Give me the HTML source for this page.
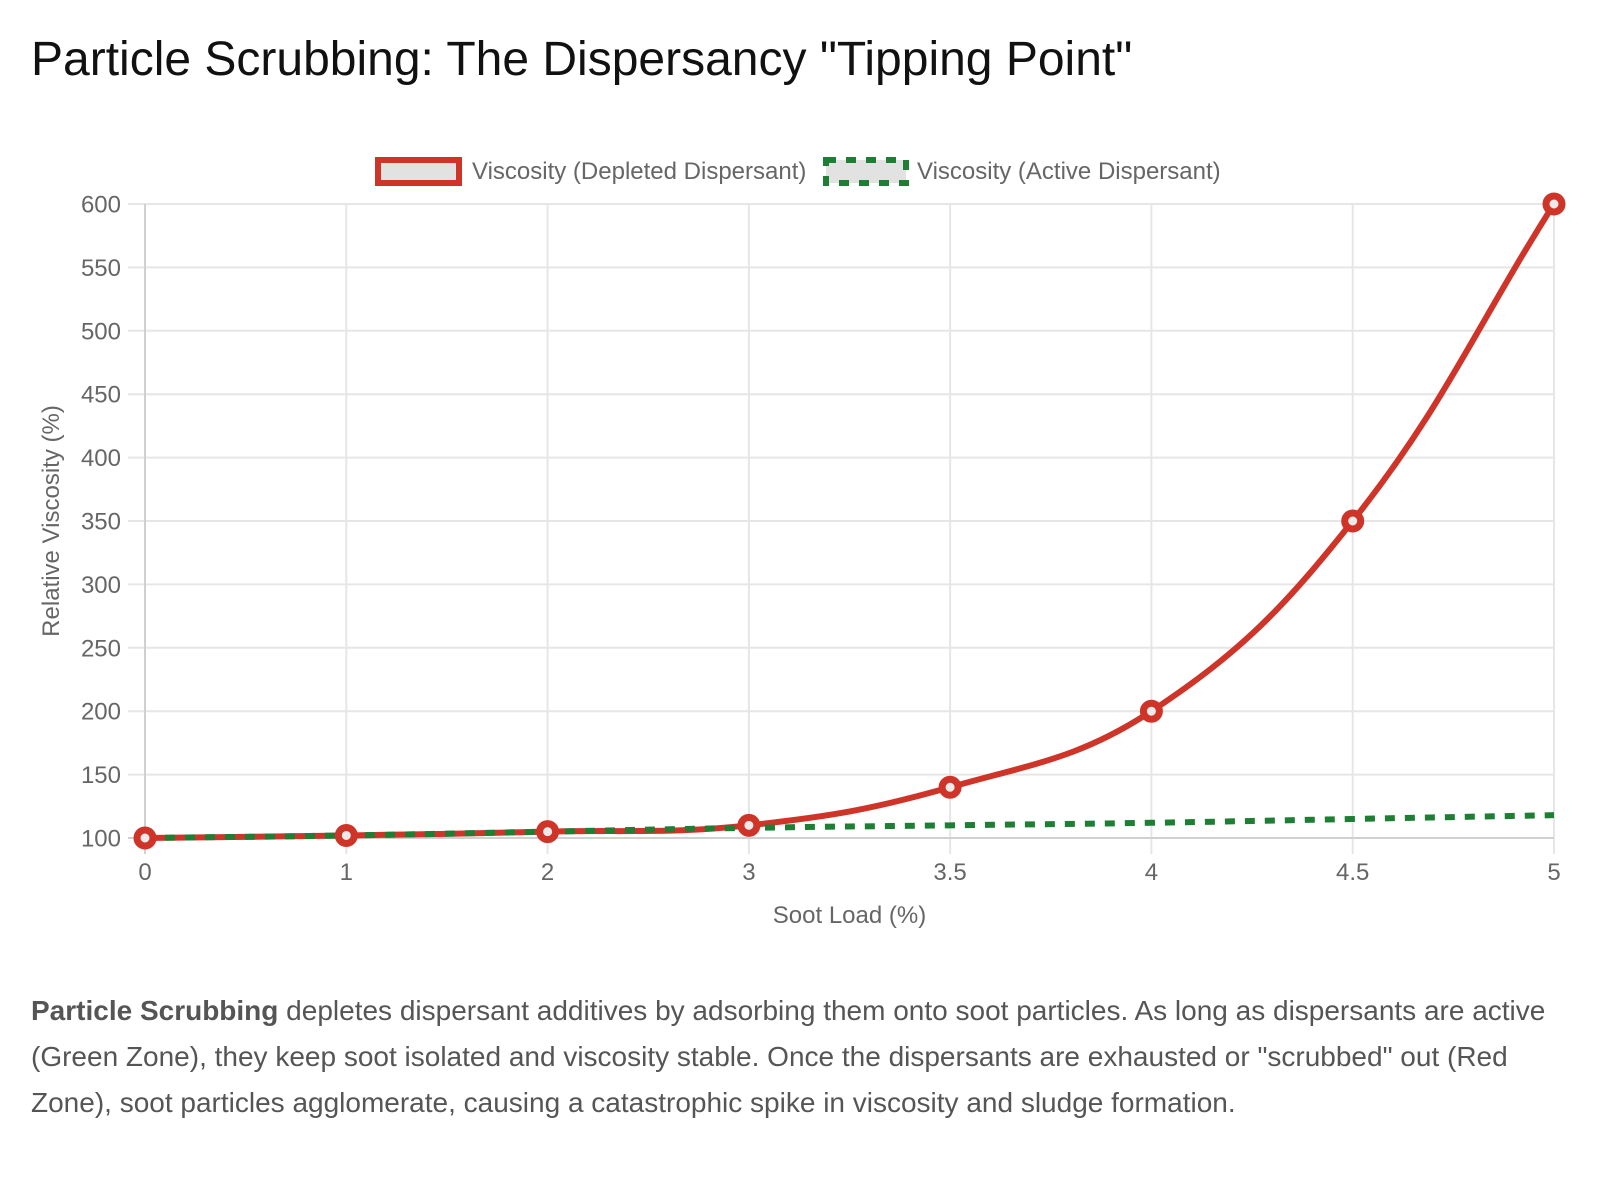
<!DOCTYPE html>
<html>
<head>
<meta charset="utf-8">
<style>
  html, body { margin:0; padding:0; background:#ffffff; }
  body { width:1600px; height:1200px; overflow:hidden; }
  svg { display:block; font-family:"Liberation Sans", Arial, Helvetica, sans-serif; }
</style>
</head>
<body>
<svg width="1600" height="1200" viewBox="0 0 1600 1200" xmlns="http://www.w3.org/2000/svg">
  <rect x="0" y="0" width="1600" height="1200" fill="#ffffff"/>

  <!-- Title -->
  <text x="31" y="75" font-size="48" fill="#111111">Particle Scrubbing: The Dispersancy "Tipping Point"</text>

  <!-- Legend -->
  <rect x="378" y="160" width="81" height="23" fill="#e2e2e2" stroke="#cf3429" stroke-width="6"/>
  <text x="472" y="179" font-size="24" fill="#666666">Viscosity (Depleted Dispersant)</text>
  <rect x="826" y="160" width="80" height="23" fill="#e2e2e2" stroke="#1e7e34" stroke-width="6" stroke-dasharray="10 10"/>
  <text x="917" y="179" font-size="24" fill="#666666">Viscosity (Active Dispersant)</text>

  <!-- Horizontal grid lines (with tick marks extending left) -->
  <g stroke="#e6e6e6" stroke-width="2">
    <line x1="128" y1="204" x2="1554" y2="204"/>
    <line x1="128" y1="267.4" x2="1554" y2="267.4"/>
    <line x1="128" y1="330.8" x2="1554" y2="330.8"/>
    <line x1="128" y1="394.2" x2="1554" y2="394.2"/>
    <line x1="128" y1="457.6" x2="1554" y2="457.6"/>
    <line x1="128" y1="521" x2="1554" y2="521"/>
    <line x1="128" y1="584.4" x2="1554" y2="584.4"/>
    <line x1="128" y1="647.8" x2="1554" y2="647.8"/>
    <line x1="128" y1="711.2" x2="1554" y2="711.2"/>
    <line x1="128" y1="774.6" x2="1554" y2="774.6"/>
  </g>
  <!-- Vertical grid lines (with tick marks extending down) -->
  <g stroke="#e6e6e6" stroke-width="2">
    <line x1="346.3" y1="204" x2="346.3" y2="854"/>
    <line x1="547.6" y1="204" x2="547.6" y2="854"/>
    <line x1="748.9" y1="204" x2="748.9" y2="854"/>
    <line x1="950.1" y1="204" x2="950.1" y2="854"/>
    <line x1="1151.4" y1="204" x2="1151.4" y2="854"/>
    <line x1="1352.7" y1="204" x2="1352.7" y2="854"/>
    <line x1="1554" y1="204" x2="1554" y2="854"/>
  </g>
  <!-- Axis borders -->
  <g stroke="#d0d0d0" stroke-width="2">
    <line x1="145" y1="204" x2="145" y2="854"/>
    <line x1="128" y1="838" x2="1554" y2="838"/>
  </g>

  <!-- Y tick labels -->
  <g font-size="24" fill="#666666" text-anchor="end">
    <text x="121" y="212.5">600</text>
    <text x="121" y="275.9">550</text>
    <text x="121" y="339.3">500</text>
    <text x="121" y="402.7">450</text>
    <text x="121" y="466.1">400</text>
    <text x="121" y="529.5">350</text>
    <text x="121" y="592.9">300</text>
    <text x="121" y="656.3">250</text>
    <text x="121" y="719.7">200</text>
    <text x="121" y="783.1">150</text>
    <text x="121" y="846.5">100</text>
  </g>

  <!-- X tick labels -->
  <g font-size="24" fill="#666666" text-anchor="middle">
    <text x="145" y="880">0</text>
    <text x="346.3" y="880">1</text>
    <text x="547.6" y="880">2</text>
    <text x="748.9" y="880">3</text>
    <text x="950.1" y="880">3.5</text>
    <text x="1151.4" y="880">4</text>
    <text x="1352.7" y="880">4.5</text>
    <text x="1554" y="880">5</text>
  </g>

  <!-- Axis titles -->
  <text x="849.5" y="923" font-size="24" fill="#666666" text-anchor="middle">Soot Load (%)</text>
  <text transform="translate(59,521) rotate(-90)" x="0" y="0" font-size="24" fill="#666666" text-anchor="middle">Relative Viscosity (%)</text>

  <!-- Depleted (red) line -->
  <path d="M145,838 C225.5,837.0 265.8,836.73 346.3,835.46 C426.8,834.19 467.1,833.69 547.6,831.66 C628.1,829.63 669.1,834.12 748.9,825.32 C830.1,816.37 871.6,809.54 950.1,787.28 C1032.6,763.89 1081.0,757.78 1151.4,711.2 C1242.0,651.27 1284.3,607.11 1352.7,521 C1445.4,404.23 1473.5,330.8 1554,204"
        fill="none" stroke="#cf3429" stroke-width="6" stroke-linejoin="round"/>

  <!-- Active (green dashed) line -->
  <path d="M145,838 C225.5,836.98 265.8,836.73 346.3,835.46 C426.8,834.19 467.1,833.18 547.6,831.66 C628.1,830.14 668.4,829.13 748.9,827.86 C829.4,826.59 869.6,826.34 950.1,825.32 C1030.6,824.30 1070.9,824.05 1151.4,822.78 C1231.9,821.51 1272.2,820.50 1352.7,818.98 C1433.2,817.46 1473.5,816.7 1554,815.18"
        fill="none" stroke="#1e7e34" stroke-width="6" stroke-dasharray="10 10"/>

  <!-- Red points -->
  <g fill="#eeeaea" stroke="#cf3429" stroke-width="7">
    <circle cx="145" cy="838" r="8"/>
    <circle cx="346.3" cy="835.46" r="8"/>
    <circle cx="547.6" cy="831.66" r="8"/>
    <circle cx="748.9" cy="825.32" r="8"/>
    <circle cx="950.1" cy="787.28" r="8"/>
    <circle cx="1151.4" cy="711.2" r="8"/>
    <circle cx="1352.7" cy="521" r="8"/>
    <circle cx="1554" cy="204" r="8"/>
  </g>

  <!-- Description paragraph -->
  <g font-size="28" fill="#555555">
    <text x="31" y="1020"><tspan font-weight="bold">Particle Scrubbing</tspan> depletes dispersant additives by adsorbing them onto soot particles. As long as dispersants are active</text>
    <text x="31" y="1066">(Green Zone), they keep soot isolated and viscosity stable. Once the dispersants are exhausted or "scrubbed" out (Red</text>
    <text x="31" y="1112">Zone), soot particles agglomerate, causing a catastrophic spike in viscosity and sludge formation.</text>
  </g>
</svg>
</body>
</html>
